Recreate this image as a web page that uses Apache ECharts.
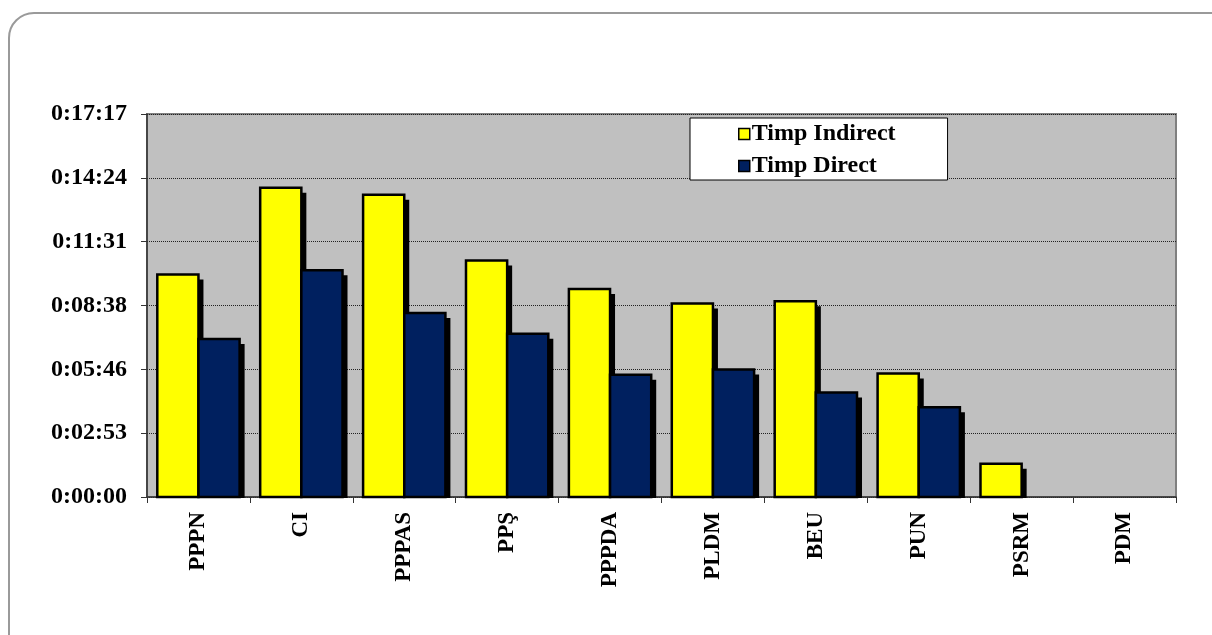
<!DOCTYPE html>
<html>
<head>
<meta charset="utf-8">
<script src="https://cdn.jsdelivr.net/npm/echarts@6/dist/echarts.min.js"></script>
<style>
  html, body { margin: 0; padding: 0; background: #fff; overflow: hidden; }
  #frame { position: absolute; left: 8px; top: 12px; width: 1230px; height: 650px;
           border: 2px solid #9a9a9a; border-radius: 26px; box-sizing: border-box; }
  #chart { position: absolute; left: 0; top: 0; width: 1212px; height: 635px; }
</style>
</head>
<body>
<div id="frame"></div>
<div id="chart"></div>
<script>
// Categories
const categories = ['PPPN', 'CI', 'PPPAS', 'PPŞ', 'PPPDA', 'PLDM', 'BEU', 'PUN', 'PSRM', 'PDM'];
// Values in seconds
const timpIndirect = [602, 837, 818, 640, 563, 524, 530, 334, 90, 0];
const timpDirect   = [428, 614, 498, 442, 331, 345, 283, 243, 0, 0];
// Y-axis tick labels (interval 172.8 s = 0.002 day)
const yTickLabels = ['0:00:00', '0:02:53', '0:05:46', '0:08:38', '0:11:31', '0:14:24', '0:17:17'];
const yInterval = 172.8;
const yMax = 1036.8;

const FONT = "'Liberation Serif', 'Times New Roman', serif";
const YELLOW = '#ffff00';
const NAVY = '#00205f';

// bars drawn with the axis scales: slot 0 = left bar, slot 1 = right bar
function makeRender(slot, color) {
  return function (params, api) {
    const idx = api.value(0);
    const val = api.value(1);
    if (!val) return null;
    const band = api.size([1, 0])[0];
    const barW = band * 0.8 / 2;
    const top = api.coord([idx, val]);
    const base = api.coord([idx, 0]);
    const x = top[0] - barW + slot * barW;
    const y = top[1];
    const h = base[1] - top[1];
    return {
      type: 'group',
      children: [
        { type: 'rect', shape: { x: x + 5, y: y + 5, width: barW, height: h - 4 },
          style: { fill: '#000' } },
        { type: 'rect', shape: { x: x, y: y, width: barW, height: h },
          style: { fill: color, stroke: '#000', lineWidth: 2.5 } }
      ]
    };
  };
}

const chart = echarts.init(document.getElementById('chart'), null, { renderer: 'canvas' });
chart.setOption({
  animation: false,
  backgroundColor: 'transparent',
  grid: {
    left: 147, top: 114, right: 36, bottom: 138,
    show: true, backgroundColor: '#c0c0c0', borderColor: '#808080', borderWidth: 2
  },
  legend: {
    orient: 'vertical',
    left: 690, top: 118,
    padding: [4, 52, 2, 48],
    itemGap: 8,
    itemWidth: 11, itemHeight: 11,
    icon: 'rect',
    backgroundColor: '#fff',
    borderColor: '#000',
    borderWidth: 1,
    textStyle: { fontFamily: FONT, fontWeight: 'bold', fontSize: 24, color: '#000', lineHeight: 24, padding: [0, 0, 0, -3] },
    data: [
      { name: 'Timp Indirect', itemStyle: { color: YELLOW, borderColor: '#000', borderWidth: 1.5 } },
      { name: 'Timp Direct', itemStyle: { color: NAVY, borderColor: '#000', borderWidth: 1.5 } }
    ]
  },
  xAxis: {
    type: 'category',
    data: categories,
    axisLine: { lineStyle: { color: '#333', width: 1.5 } },
    axisTick: { show: true, length: 6, lineStyle: { color: '#333' } },
    axisLabel: { rotate: 90, margin: 15, fontFamily: FONT, fontWeight: 'bold', fontSize: 23, color: '#000' },
    splitLine: { show: false }
  },
  yAxis: {
    type: 'value',
    min: 0, max: yMax, interval: yInterval,
    axisLine: { show: true, lineStyle: { color: '#333', width: 1.5 } },
    axisTick: { show: true, length: 6, lineStyle: { color: '#333' } },
    axisLabel: {
      margin: 20, fontFamily: FONT, fontWeight: 'bold', fontSize: 24, color: '#000',
      formatter: (v) => yTickLabels[Math.round(v / yInterval)]
    },
    splitLine: { show: true, lineStyle: { color: '#222', type: [1, 1], width: 1 } }
  },
  series: [
    {
      name: 'Timp Indirect', type: 'custom',
      itemStyle: { color: YELLOW },
      encode: { x: 0, y: 1 },
      data: timpIndirect.map((v, i) => [i, v]),
      renderItem: makeRender(0, YELLOW)
    },
    {
      name: 'Timp Direct', type: 'custom',
      itemStyle: { color: NAVY },
      encode: { x: 0, y: 1 },
      data: timpDirect.map((v, i) => [i, v]),
      renderItem: makeRender(1, NAVY)
    }
  ]
});
</script>
</body>
</html>
